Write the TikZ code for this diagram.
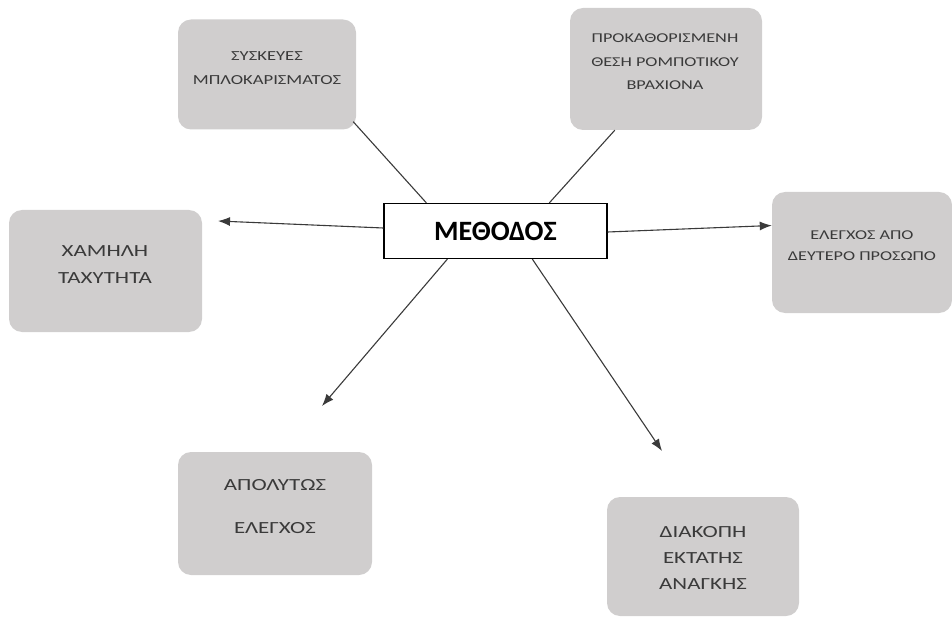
\documentclass[tikz,border=0pt]{standalone}
\usepackage{fontspec}
\setmainfont{Carlito}
\newfontfamily\cardfont{Carlito}[FakeStretch=1.35]
\usetikzlibrary{arrows.meta,calc}
\definecolor{boxgray}{HTML}{D0CECE}
\definecolor{inkgray}{HTML}{3A3A3A}
\definecolor{txtgray}{HTML}{3A3A3A}
\begin{document}
\begin{tikzpicture}[x=1pt,y=-1pt,
  card/.style={fill=boxgray, rounded corners=13pt, inner sep=0pt},
  cardtext/.style={text=txtgray, align=center, inner sep=0pt},
  hub/.style={draw=black, line width=1.3pt, fill=white, inner sep=0pt,
    minimum width=223pt, minimum height=55pt,
    font=\bfseries\fontsize{28}{32}\selectfont},
  link/.style={draw=inkgray, line width=1.1pt},
  arrowlink/.style={link, -{Latex[length=12pt,width=9pt]}}]
\useasboundingbox (0,0) rectangle (952,617);

% grey cards
\node[card, minimum width=178pt, minimum height=110pt] (sys)   at (267,74.5) {};
\node[card, minimum width=192pt, minimum height=122pt] (prok)  at (666,69) {};
\node[card, minimum width=180pt, minimum height=121pt] (elegx) at (862,252.5) {};
\node[card, minimum width=193pt, minimum height=122pt] (xam)   at (105.5,271) {};
\node[card, minimum width=194pt, minimum height=123pt] (apol)  at (275,513.5) {};
\node[card, minimum width=192pt, minimum height=119pt] (diak)  at (703,556.5) {};

% card captions
\node[cardtext, font=\cardfont\fontsize{13.8}{24}\selectfont] (sysT) at (267,68)
  {ΣΥΣΚΕΥΕΣ\\ΜΠΛΟΚΑΡΙΣΜΑΤΟΣ};
\node[cardtext, font=\cardfont\fontsize{13.5}{23.5}\selectfont] (prokT) at (665,62)
  {ΠΡΟΚΑΘΟΡΙΣΜΕΝΗ\\ΘΕΣΗ ΡΟΜΠΟΤΙΚΟΥ\\ΒΡΑΧΙΟΝΑ};
\node[cardtext, font=\cardfont\fontsize{13.5}{21}\selectfont] (elegxT) at (862,245.5)
  {ΕΛΕΓΧΟΣ ΑΠΟ\\ΔΕΥΤΕΡΟ ΠΡΟΣΩΠΟ};
\node[cardtext, font=\cardfont\fontsize{17}{27}\selectfont] (xamT) at (105,265)
  {ΧΑΜΗΛΗ\\ΤΑΧΥΤΗΤΑ};
\node[cardtext, font=\cardfont\fontsize{17}{43}\selectfont] (apolT) at (275,506.5)
  {ΑΠΟΛΥΤΩΣ\\ΕΛΕΓΧΟΣ};
\node[cardtext, font=\cardfont\fontsize{17}{26}\selectfont] (diakT) at (703,558)
  {ΔΙΑΚΟΠΗ\\ΕΚΤΑΤΗΣ\\ΑΝΑΓΚΗΣ};

% central box
\node[hub] (hub) at (495.5,231) {ΜΕΘΟΔΟΣ};

% free arrow ends
\coordinate (tipL)  at (218,221);
\coordinate (tipDL) at (322,406);
\coordinate (tipDR) at (662,451);

% connectors
\draw[link] ($(hub.north west)+(43,0)$) -- ($(sys.south east)+(-3,-8)$);
\draw[link] ($(hub.north west)+(166,0)$) -- ($(prok.south west)+(45,0)$);
\draw[arrowlink] ($(hub.west)+(0,-3)$) -- (tipL);
\draw[arrowlink] ($(hub.east)+(0,1)$) -- ($(elegx.west)+(0,-27)$);
\draw[arrowlink] ($(hub.south west)+(64,0)$) -- (tipDL);
\draw[arrowlink] ($(hub.south west)+(149,0)$) -- (tipDR);
\end{tikzpicture}
\end{document}
